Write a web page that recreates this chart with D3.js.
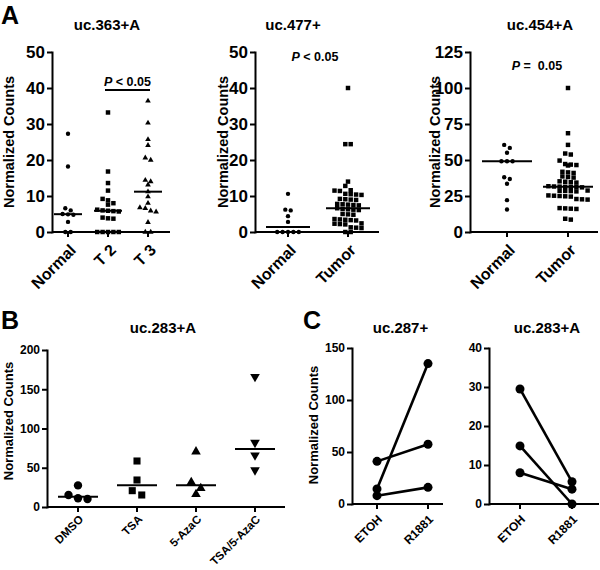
<!DOCTYPE html>
<html><head><meta charset="utf-8">
<script src="https://cdn.jsdelivr.net/npm/d3@7"></script>
<style>
body{margin:0;background:#fff}
text{font-family:"Liberation Sans",Arial,Helvetica,sans-serif;font-weight:bold;fill:#000}
</style>
</head><body>
<svg id="chart" width="600" height="570"></svg>
<script>
// ---------------- DATA ----------------
const A1_CATS = ["Normal", "T 2", "T 3"];
const A1_NORMAL = [27.3, 18.2, 6.6, 6.0, 5.0, 4.9, 4.8, 2.8, 0, 0];
const A1_T2 = [33.2, 16.8, 13.6, 11.5, 9.2, 8.8, 8.0, 7.6, 6.2, 6.0, 5.9, 5.8, 5.7, 4.0, 3.8, 3.7, 0, 0, 0, 0, 0];
const A1_T3 = [36.4, 30.3, 25.7, 24.1, 20.6, 20.0, 14.4, 14.0, 13.1, 11.2, 9.8, 8.0, 6.8, 6.6, 5.9, 5.6, 2.7, 0, 0];
const A1_TICKS = [0, 10, 20, 30, 40, 50];

const A2_CATS = ["Normal", "Tumor"];
const A2_NORMAL = [10.6, 6.2, 6.0, 4.4, 2.8, 0, 0, 0, 0, 0];
const A2_TUMOR = [40.0, 24.4, 24.4, 14.0, 12.8, 11.6, 11.5, 11.4, 10.6, 10.5, 10.4, 10.3, 9.2, 9.1, 9.0, 8.9,
  7.8, 7.7, 7.6, 7.5, 7.4, 6.6, 6.4, 6.3, 6.2, 6.1, 5.0, 4.9, 4.8, 3.6, 3.5, 3.4, 3.3, 3.2, 2.4, 2.3, 2.2, 2.1,
  1.3, 1.2, 1.1, 0, 0];
const A2_TICKS = [0, 10, 20, 30, 40, 50];

const A3_CATS = ["Normal", "Tumor"];
const A3_NORMAL = [60.5, 58.4, 55.0, 49.1, 49.1, 49.1, 38.0, 36.8, 33.5, 22.1, 15.6];
const A3_TUMOR = [100, 68.6, 60.5, 54.5, 53.8, 49.6, 47.2, 46.8, 46.5, 46.2, 41.8, 41.4, 41.0, 38.6, 38.2, 37.8,
  35.2, 34.9, 34.6, 34.3, 31.8, 31.6, 31.5, 31.4, 31.3, 31.2, 31.0, 28.8, 28.6, 28.5, 28.4, 28.2,
  25.4, 25.2, 25.0, 24.8, 24.6, 22.9, 22.7, 22.5, 16.6, 16.4, 16.2, 16.0, 9.2, 8.6];
const A3_TICKS = [0, 25, 50, 75, 100, 125];

const B_CATS = ["DMSO", "TSA", "5-AzaC", "TSA/5-AzaC"];
const B_DMSO = [27.5, 15.3, 11.1, 10.2];
const B_TSA = [58.6, 34.4, 20.8, 15.3];
const B_AZAC = [70.5, 31.5, 23.8, 16.2];
const B_COMBO = [166, 82, 66, 47];
const B_TICKS = [0, 50, 100, 150, 200];

const C_CATS = ["ETOH", "R1881"];
const C1_ETOH = [41, 14.5, 8];
const C1_R1881 = [57.5, 135, 16];
const C1_TICKS = [0, 50, 100, 150];
const C2_ETOH = [29.5, 14.9, 8.0];
const C2_R1881 = [5.7, 0, 3.8];
const C2_TICKS = [0, 10, 20, 30, 40];

// ---------------- HELPERS ----------------
const svg = d3.select("#chart");

function yAxis(scale, x, ticks, fs) {
  const g = svg.append("g").attr("transform", `translate(${x},0)`)
    .call(d3.axisLeft(scale).tickValues(ticks).tickSize(5).tickPadding(2).tickSizeOuter(0));
  g.select(".domain").attr("stroke", "#000").attr("stroke-width", 2).attr("stroke-linecap", "square");
  g.selectAll(".tick line").attr("stroke", "#000").attr("stroke-width", 2);
  g.selectAll(".tick text").style("font-size", fs + "px").attr("fill", "#000");
  return g;
}

function xAxis(scale, y, x0, x1, fs, ldx, ldy) {
  const g = svg.append("g");
  g.append("line").attr("x1", x0).attr("x2", x1).attr("y1", y).attr("y2", y)
    .attr("stroke", "#000").attr("stroke-width", 2);
  const t = g.selectAll(".xt").data(scale.domain()).enter().append("g")
    .attr("transform", d => `translate(${scale(d)},${y})`);
  t.append("line").attr("y1", 0).attr("y2", 5).attr("stroke", "#000").attr("stroke-width", 2);
  t.append("text").attr("text-anchor", "end")
    .attr("transform", `translate(${ldx},${ldy}) rotate(-45)`)
    .style("font-size", fs + "px").text(d => d);
  return g;
}

function title(txt, x, y, fs) {
  svg.append("text").attr("x", x).attr("y", y).attr("text-anchor", "middle")
    .style("font-size", fs + "px").text(txt);
}

function yTitle(txt, x, y, fs) {
  svg.append("text").attr("transform", `translate(${x},${y}) rotate(-90)`)
    .attr("text-anchor", "middle").style("font-size", fs + "px").text(txt);
}

function panelLetter(txt, x, y) {
  svg.append("text").attr("x", x).attr("y", y).style("font-size", "25px").text(txt);
}

// row-based dot layout (GraphPad-like scatter)
function swarm(values, xc, yScale, d) {
  const pts = values.map(v => ({ v, y: yScale(v) })).sort((a, b) => a.y - b.y);
  const rows = [];
  pts.forEach(p => {
    const r = rows[rows.length - 1];
    if (r && Math.abs(p.y - r[0].y) < d * 0.8) r.push(p); else rows.push([p]);
  });
  rows.forEach(r => r.forEach((p, i) => { p.x = xc + (i - (r.length - 1) / 2) * d; }));
  return pts;
}

function dots(values, xc, yScale, d, symType, size, rotate) {
  const pts = swarm(values, xc, yScale, d);
  const sym = d3.symbol().type(symType).size(size);
  svg.append("g").selectAll("path").data(pts).enter().append("path")
    .attr("d", sym)
    .attr("transform", p => `translate(${p.x},${p.y})` + (rotate ? " rotate(180)" : ""))
    .attr("fill", "#000");
}

function medianLine(values, xc, yScale, hw) {
  const m = d3.median(values);
  svg.append("line").attr("x1", xc - hw).attr("x2", xc + hw)
    .attr("y1", yScale(m)).attr("y2", yScale(m)).attr("stroke", "#000").attr("stroke-width", 2);
}

function pText(x, y, rest, fs) {
  const t = svg.append("text").attr("x", x).attr("y", y).attr("text-anchor", "middle")
    .style("font-size", fs + "px").style("white-space", "pre");
  t.append("tspan").style("font-style", "italic").text("P");
  t.append("tspan").text(rest);
}

// ---------------- PANEL A1 ----------------
panelLetter("A", 1, 23.5);
{
  const y = d3.scaleLinear().domain([0, 50]).range([232, 52]);
  const x = d3.scalePoint().domain(A1_CATS).range([68, 148]);
  const series = [A1_NORMAL, A1_T2, A1_T3];
  const syms = [d3.symbolCircle, d3.symbolSquare, d3.symbolTriangle];
  const sizes = [15, 20, 14];
  series.forEach((s, i) => {
    dots(s, x(A1_CATS[i]), y, 5.4, syms[i], sizes[i], false);
    medianLine(s, x(A1_CATS[i]), y, 14);
  });
  yAxis(y, 52, A1_TICKS, 17);
  xAxis(x, 232, 52, 170, 16, 9, 19);
  title("uc.363+A", 107, 30, 15);
  yTitle("Normalized Counts", 14, 142, 14.5);
  svg.append("line").attr("x1", 105).attr("x2", 150).attr("y1", 90).attr("y2", 90)
    .attr("stroke", "#000").attr("stroke-width", 2);
  pText(127.5, 86, " < 0.05", 12.5);
}

// ---------------- PANEL A2 ----------------
{
  const y = d3.scaleLinear().domain([0, 50]).range([232, 52]);
  const x = d3.scalePoint().domain(A2_CATS).range([288, 348]);
  const series = [A2_NORMAL, A2_TUMOR];
  const syms = [d3.symbolCircle, d3.symbolSquare];
  const sizes = [15, 20];
  series.forEach((s, i) => {
    dots(s, x(A2_CATS[i]), y, 5.4, syms[i], sizes[i], false);
    medianLine(s, x(A2_CATS[i]), y, 22);
  });
  yAxis(y, 255, A2_TICKS, 17);
  xAxis(x, 232, 255, 379, 16, 9, 19);
  title("uc.477+", 293, 30, 15);
  yTitle("Normalized Counts", 228, 142, 14.5);
  pText(315, 61, " < 0.05", 12.5);
}

// ---------------- PANEL A3 ----------------
{
  const y = d3.scaleLinear().domain([0, 125]).range([232, 52]);
  const x = d3.scalePoint().domain(A3_CATS).range([507, 568]);
  const series = [A3_NORMAL, A3_TUMOR];
  const syms = [d3.symbolCircle, d3.symbolSquare];
  const sizes = [15, 20];
  series.forEach((s, i) => {
    dots(s, x(A3_CATS[i]), y, 5.6, syms[i], sizes[i], false);
    medianLine(s, x(A3_CATS[i]), y, 25);
  });
  yAxis(y, 470, A3_TICKS, 17);
  xAxis(x, 232, 470, 598, 16, 9, 19);
  title("uc.454+A", 540, 30, 15);
  yTitle("Normalized Counts", 440, 142, 14.5);
  pText(537, 70, " =  0.05", 12.5);
}

// ---------------- PANEL B ----------------
panelLetter("B", 1, 329);
{
  const y = d3.scaleLinear().domain([0, 200]).range([507, 350]);
  const x = d3.scalePoint().domain(B_CATS).range([78, 255]);
  const series = [B_DMSO, B_TSA, B_AZAC, B_COMBO];
  const syms = [d3.symbolCircle, d3.symbolSquare, d3.symbolTriangle, d3.symbolTriangle];
  const sizes = [55, 50, 40, 40];
  series.forEach((s, i) => {
    dots(s, x(B_CATS[i]), y, 9.5, syms[i], sizes[i], i === 3);
    medianLine(s, x(B_CATS[i]), y, 20);
  });
  yAxis(y, 47, B_TICKS, 12);
  xAxis(x, 507, 47, 285, 11.5, 6, 13);
  title("uc.283+A", 163, 333, 15);
  yTitle("Normalized Counts", 13, 421, 13);
}

// ---------------- PANEL C ----------------
panelLetter("C", 303, 329);
function pairPanel(etoh, r1881, yMax, ticks, axX, x0, x1, xEnd, ttl, showYTitle) {
  const y = d3.scaleLinear().domain([0, yMax]).range([504, 348]);
  const x = d3.scalePoint().domain(C_CATS).range([x0, x1]);
  const pairs = etoh.map((v, i) => [v, r1881[i]]);
  const line = d3.line().x((d, i) => x(C_CATS[i])).y(d => y(d));
  svg.append("g").selectAll("path").data(pairs).enter().append("path")
    .attr("d", line).attr("fill", "none").attr("stroke", "#000").attr("stroke-width", 2.6);
  const pts = [];
  pairs.forEach(p => p.forEach((v, i) => pts.push({ c: C_CATS[i], v })));
  svg.append("g").selectAll("circle").data(pts).enter().append("circle")
    .attr("cx", d => x(d.c)).attr("cy", d => y(d.v)).attr("r", 4.5).attr("fill", "#000");
  yAxis(y, axX, ticks, 12);
  xAxis(x, 504, axX, xEnd, 12, 6, 16);
  title(ttl, (axX + xEnd) / 2 + 3, 333, 15);
  if (showYTitle) yTitle("Normalized Counts", 318, 425, 13);
}
pairPanel(C1_ETOH, C1_R1881, 150, C1_TICKS, 352, 377, 428, 443, "uc.287+", true);
pairPanel(C2_ETOH, C2_R1881, 40, C2_TICKS, 489, 520, 572, 599, "uc.283+A", false);
</script>
</body></html>
